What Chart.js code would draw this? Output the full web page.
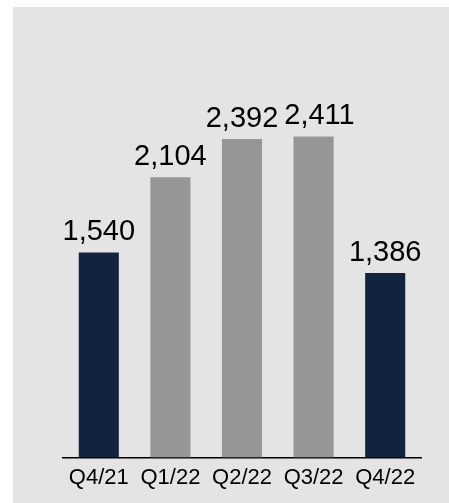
<!DOCTYPE html>
<html>
<head>
<meta charset="utf-8">
<script src="https://cdn.jsdelivr.net/npm/chart.js@4/dist/chart.umd.min.js"></script>
<style>
  html, body { margin: 0; padding: 0; background: #ffffff; }
  #panel { position: absolute; left: 13px; top: 7px; width: 436px; height: 496px; background: #e4e4e4; }
  #panel canvas { display: block; }
</style>
</head>
<body>
<div id="panel"><canvas id="chart" width="436" height="496"></canvas></div>
<script>
// Quarterly values
const quarters = ['Q4/21', 'Q1/22', 'Q2/22', 'Q3/22', 'Q4/22'];
const values = [1540, 2104, 2392, 2411, 1386];
const barColors = ['#12233f', '#969696', '#969696', '#969696', '#12233f'];

const FONT = '"Liberation Sans", Arial, sans-serif';

// Writes each bar's value above it; a label that would collide with
// its left neighbour is nudged to the right.
const valueLabels = {
  id: 'valueLabels',
  afterDatasetsDraw(chart) {
    const ctx = chart.ctx;
    const meta = chart.getDatasetMeta(0);
    const minGap = 6;
    ctx.save();
    ctx.font = '29px ' + FONT;
    ctx.fillStyle = '#000000';
    ctx.textAlign = 'left';
    ctx.textBaseline = 'alphabetic';
    let prevRight = -Infinity;
    let prevBase = null;
    meta.data.forEach((bar, i) => {
      const text = chart.data.datasets[0].data[i].toLocaleString('en-US');
      const w = ctx.measureText(text).width;
      const base = bar.y - 12;
      let left = bar.x - w / 2;
      if (prevBase !== null && Math.abs(base - prevBase) < 30 && left < prevRight + minGap) {
        left = prevRight + minGap;
      }
      ctx.fillText(text, left, base);
      prevRight = left + w;
      prevBase = base;
    });
    ctx.restore();
  }
};

new Chart(document.getElementById('chart'), {
  type: 'bar',
  data: {
    labels: quarters,
    datasets: [{
      data: values,
      backgroundColor: barColors,
      borderWidth: 0,
      categoryPercentage: 1,
      barPercentage: 0.56
    }]
  },
  options: {
    responsive: false,
    animation: false,
    layout: { padding: { left: 50, right: 28, top: 51, bottom: 5 } },
    plugins: { legend: { display: false }, tooltip: { enabled: false } },
    scales: {
      x: {
        grid: { display: false, drawTicks: false },
        border: { display: true, color: '#000000', width: 1.5 },
        ticks: { color: '#000000', font: { family: FONT, size: 22 }, padding: 7 }
      },
      y: {
        display: false,
        min: 0,
        max: 3000
      }
    }
  },
  plugins: [valueLabels]
});
</script>
</body>
</html>
